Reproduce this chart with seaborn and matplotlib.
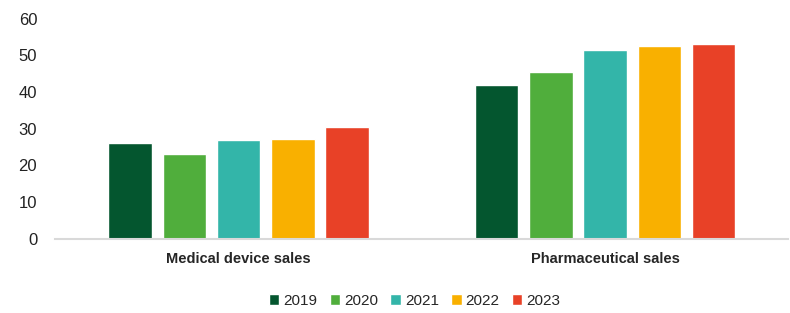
import pandas as pd
import matplotlib
matplotlib.use('Agg')
import matplotlib.pyplot as plt
import seaborn as sns

categories = ['Medical device sales', 'Pharmaceutical sales']
years = ['2019', '2020', '2021', '2022', '2023']
medical = [26, 23, 26.8, 27.3, 30.5]
pharma = [42, 45.6, 51.6, 52.5, 53]
colors = ['#04562f', '#50ae3c', '#33b5a9', '#f9b000', '#e84127']

df = pd.DataFrame({
    'category': [categories[0]] * 5 + [categories[1]] * 5,
    'year': years * 2,
    'value': medical + pharma,
})

sns.set_style('white')
plt.rcParams['font.family'] = ['Liberation Sans', 'DejaVu Sans']

fig = plt.figure(figsize=(7.9, 3.13), dpi=100)
ax = fig.add_axes([0.07, 0.238, 0.928, 0.702])
sns.barplot(data=df, x='category', y='value', hue='year', palette=colors,
            width=0.74, gap=0.2, ax=ax, saturation=1)

ax.set_ylim(0, 60)
ax.set_yticks(range(0, 61, 10))
ax.set_xlabel('')
ax.set_ylabel('')
for s in ['top', 'right', 'left']:
    ax.spines[s].set_visible(False)
ax.spines['bottom'].set_color('#d9d9d9')
ax.spines['bottom'].set_linewidth(1.5)
ax.tick_params(axis='y', length=0, labelsize=12, colors='#222222', pad=13)
ax.tick_params(axis='x', length=0, labelsize=10.5, pad=10)
for t in ax.get_xticklabels():
    t.set_fontweight('bold')

ax.legend(loc='center', bbox_to_anchor=(0.49, -0.285), ncol=5, frameon=False,
          fontsize=11, handlelength=0.7, handleheight=0.7, handletextpad=0.25,
          columnspacing=0.8, borderaxespad=0)

plt.savefig('out.png', dpi=100)
